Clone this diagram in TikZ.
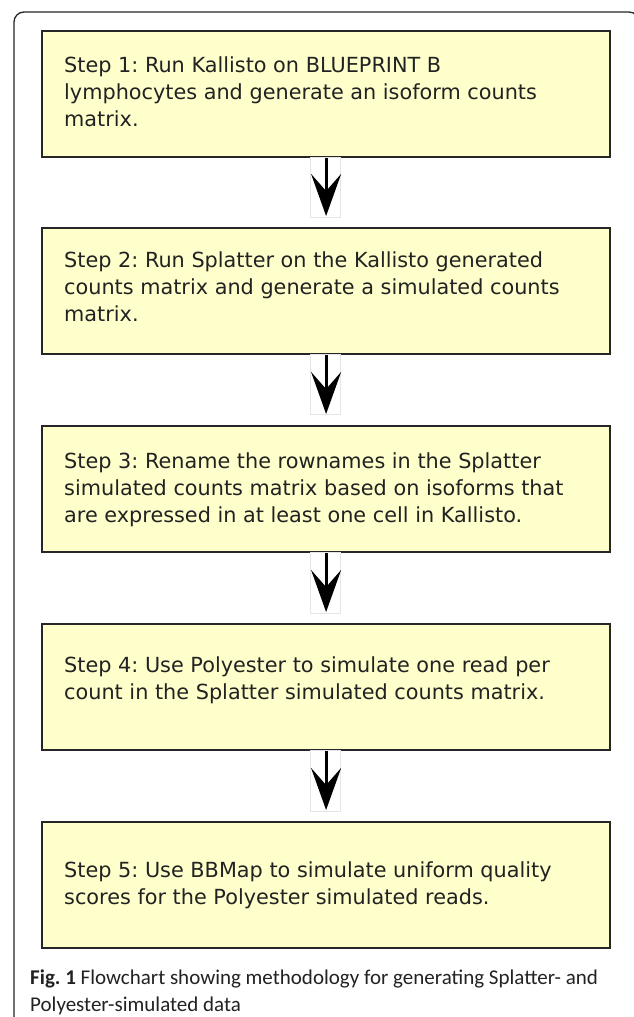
\documentclass[tikz,border=0pt]{standalone}
\usepackage{fontspec}
\setmainfont{DejaVu Sans}
\newfontfamily\capfont{Carlito}
\usetikzlibrary{arrows.meta}
\definecolor{boxfill}{HTML}{FFFFCC}
\definecolor{boxline}{HTML}{262626}
\definecolor{textcol}{HTML}{222222}
\frenchspacing
\begin{document}
\begin{tikzpicture}[x=1pt,y=-1pt,
  stepbox/.style={draw=boxline, fill=boxfill, line width=2.2pt, anchor=north west,
    minimum width=568pt, minimum height=126pt, inner sep=0pt},
  steptext/.style={anchor=north west, inner sep=0pt, align=left, text=textcol,
    font=\fontsize{20.8}{27}\selectfont},
  flow/.style={line width=3pt, -{Stealth[length=42pt,width=30pt,inset=17pt]}, shorten >=11pt},
  ghost/.style={draw=black!10, line width=0.6pt}]
\useasboundingbox (0,0) rectangle (633,1017);
\fill[white] (0,0) rectangle (633,1017);
% outer frame
\draw[line width=1.3pt, black!85, rounded corners=10pt] (14,1030) -- (14,12) -- (639,12) -- (639,1030);
% boxes
\node[stepbox] (b1) at (41,30) {};
\node[stepbox] (b2) at (41,227) {};
\node[stepbox] (b3) at (41,425) {};
\node[stepbox] (b4) at (41,623) {};
\node[stepbox] (b5) at (41,821) {};
% texts
\node[steptext] (t1) at (64,56) {Step 1: Run Kallisto on BLUEPRINT B\\lymphocytes and generate an isoform counts\\matrix.};
\node[steptext] (t2) at (64,251) {Step 2: Run Splatter on the Kallisto generated\\counts matrix and generate a simulated counts\\matrix.};
\node[steptext] (t3) at (64,452) {Step 3: Rename the rownames in the Splatter\\simulated counts matrix based on isoforms that\\are expressed in at least one cell in Kallisto.};
\node[steptext] (t4) at (64,656) {Step 4: Use Polyester to simulate one read per\\count in the Splatter simulated counts matrix.};
\node[steptext] (t5) at (64,861) {Step 5: Use BBMap to simulate uniform quality\\scores for the Polyester simulated reads.};
% faint frames behind arrows
\draw[ghost] (310,157) rectangle (340,217);
\draw[ghost] (310,354) rectangle (340,414);
\draw[ghost] (310,552) rectangle (340,613);
\draw[ghost] (310,750) rectangle (340,811);
% arrows
\draw[flow] (b1.south) -- (b2.north);
\draw[flow] (b2.south) -- (b3.north);
\draw[flow] (b3.south) -- (b4.north);
\draw[flow] (b4.south) -- (b5.north);
% caption
\node[anchor=north west, inner sep=0pt, align=left, text=textcol,
  font=\capfont\fontsize{21}{27}\selectfont] (cap) at (30,970)
  {\textbf{Fig. 1} Flowchart showing methodology for generating Splatter- and\\Polyester-simulated data};
\end{tikzpicture}
\end{document}
